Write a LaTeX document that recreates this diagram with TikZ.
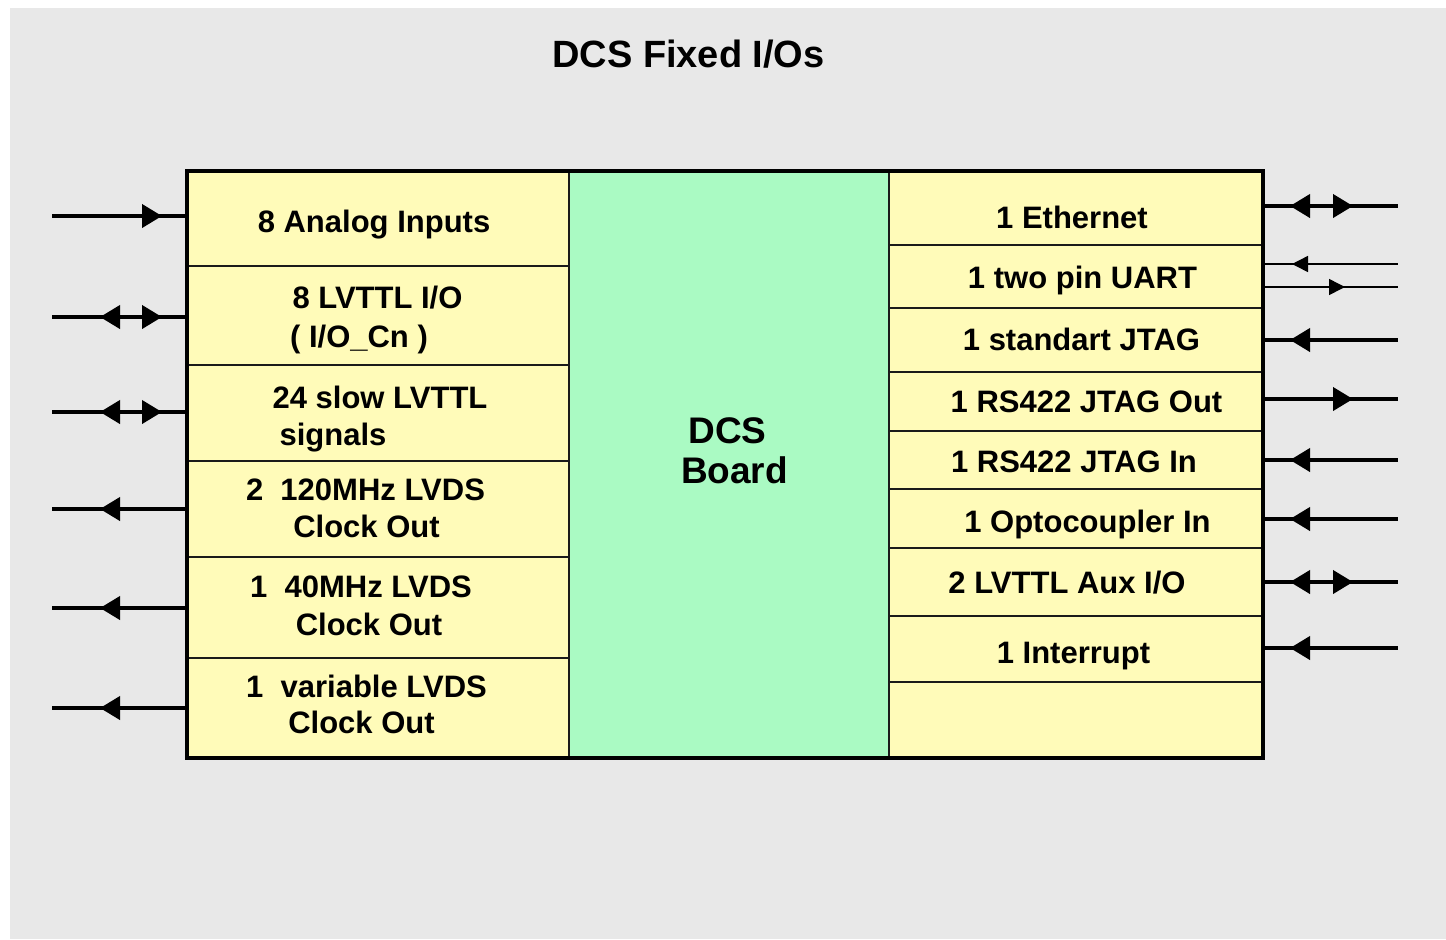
\documentclass[tikz,border=0pt]{standalone}
\usepackage{fontspec}
\setmainfont{Liberation Sans}
\usetikzlibrary{arrows.meta,decorations.markings,fit}
\definecolor{bggrey}{HTML}{E8E8E8}
\definecolor{cellyellow}{HTML}{FFFBB9}
\definecolor{boardgreen}{HTML}{AAFAC3}
\definecolor{edge}{HTML}{1A1A1A}
\tikzset{
  cellbox/.style={draw=edge, line width=1pt, fill=cellyellow, inner sep=0pt},
  boardbox/.style={draw=edge, line width=1pt, fill=boardgreen, inner sep=0pt},
  framebox/.style={draw=black, line width=2pt, inner sep=0pt},
  lbl/.style={anchor=base, inner sep=0pt, font=\bfseries\fontsize{15.5}{18}\selectfont},
  sig/.style={line width=2pt, black},
  thinsig/.style={line width=0.75pt, black},
  fwd/.style={postaction={decorate}, decoration={markings,
      mark=at position #1 with {\arrow{Triangle[length=10pt,width=11.5pt]}}}},
  bwd/.style={postaction={decorate}, decoration={markings,
      mark=at position #1 with {\arrowreversed{Triangle[length=10pt,width=11.5pt]}}}},
  both/.style n args={2}{postaction={decorate}, decoration={markings,
      mark=at position #1 with {\arrowreversed{Triangle[length=10pt,width=11.5pt]}},
      mark=at position #2 with {\arrow{Triangle[length=10pt,width=11.5pt]}}}},
  sfwd/.style={postaction={decorate}, decoration={markings,
      mark=at position #1 with {\arrow{Triangle[length=8pt,width=8pt]}}}},
  sbwd/.style={postaction={decorate}, decoration={markings,
      mark=at position #1 with {\arrowreversed{Triangle[length=8pt,width=8pt]}}}},
}
\begin{document}
\begin{tikzpicture}[x=0.5pt,y=-0.5pt]
\useasboundingbox (0,0) rectangle (1446,939);
\fill[white] (0,0) rectangle (1446,939);
\fill[bggrey] (10,8) rectangle (1446,939);

% title
\node[anchor=base, inner sep=0pt, font=\bfseries\fontsize{19}{22}\selectfont] (title) at (688.5,67) {DCS Fixed I/Os};

% left column cells
\node[cellbox, fit={(187,171) (569,266)}] (L1) {};
\node[cellbox, fit={(187,266) (569,365)}] (L2) {};
\node[cellbox, fit={(187,365) (569,461)}] (L3) {};
\node[cellbox, fit={(187,461) (569,557)}] (L4) {};
\node[cellbox, fit={(187,557) (569,658)}] (L5) {};
\node[cellbox, fit={(187,658) (569,758)}] (L6) {};
% middle
\node[boardbox, fit={(569,171) (889,758)}] (M) {};
% right column cells
\node[cellbox, fit={(889,171) (1263,245)}] (R1) {};
\node[cellbox, fit={(889,245) (1263,308)}] (R2) {};
\node[cellbox, fit={(889,308) (1263,372)}] (R3) {};
\node[cellbox, fit={(889,372) (1263,431)}] (R4) {};
\node[cellbox, fit={(889,431) (1263,489)}] (R5) {};
\node[cellbox, fit={(889,489) (1263,548)}] (R6) {};
\node[cellbox, fit={(889,548) (1263,616)}] (R7) {};
\node[cellbox, fit={(889,616) (1263,682)}] (R8) {};
\node[cellbox, fit={(889,682) (1263,758)}] (R9) {};
% outer frame
\node[framebox, fit={(187,171) (1263,758)}] (frame) {};

% left texts
\node[lbl] (t1) at (374,232) {8 Analog Inputs};
\node[lbl] (t2a) at (377.5,308) {8 LVTTL I/O};
\node[lbl] (t2b) at (359,347) {( I/O\_Cn )};
\node[lbl] (t3a) at (380,408) {24 slow LVTTL};
\node[lbl] (t3b) at (333,445) {signals};
\node[lbl] (t4a) at (365.5,500) {2\ \ 120MHz LVDS};
\node[lbl] (t4b) at (366.5,537) {Clock Out};
\node[lbl] (t5a) at (361,597) {1\ \ 40MHz LVDS};
\node[lbl] (t5b) at (369,635) {Clock Out};
\node[lbl] (t6a) at (366.5,697) {1\ \ variable LVDS};
\node[lbl] (t6b) at (361.5,733) {Clock Out};

% middle text
\node[anchor=base, inner sep=0pt, font=\bfseries\fontsize{18.5}{22}\selectfont] (dcs) at (727.5,443) {DCS};
\node[anchor=base, inner sep=0pt, font=\bfseries\fontsize{18.5}{22}\selectfont] (board) at (734.5,483) {Board};

% right texts
\node[lbl] (r1) at (1072,228) {1 Ethernet};
\node[lbl] (r2) at (1082.5,288) {1 two pin UART};
\node[lbl] (r3) at (1081.5,350) {1 standart JTAG};
\node[lbl] (r4) at (1086.5,412) {1 RS422 JTAG Out};
\node[lbl] (r5) at (1074,472) {1 RS422 JTAG In};
\node[lbl] (r6) at (1087.5,532) {1 Optocoupler In};
\node[lbl] (r7) at (1067,593) {2 LVTTL Aux I/O};
\node[lbl] (r8) at (1073.5,663) {1 Interrupt};

% left connectors
\coordinate (la1) at (52,216);
\coordinate (la2) at (52,317);
\coordinate (la3) at (52,412);
\coordinate (la4) at (52,509);
\coordinate (la5) at (52,608);
\coordinate (la6) at (52,708);
\draw[sig, fwd=55pt] (la1) -- (la1 -| L1.west);
\draw[sig, both={24pt}{55pt}] (la2) -- (la2 -| L2.west);
\draw[sig, both={24pt}{55pt}] (la3) -- (la3 -| L3.west);
\draw[sig, bwd=24pt] (la4) -- (la4 -| L4.west);
\draw[sig, bwd=24pt] (la5) -- (la5 -| L5.west);
\draw[sig, bwd=24pt] (la6) -- (la6 -| L6.west);

% right connectors
\coordinate (ra1) at (1398,206);
\coordinate (ra2a) at (1398,264);
\coordinate (ra2b) at (1398,287);
\coordinate (ra3) at (1398,340);
\coordinate (ra4) at (1398,399);
\coordinate (ra5) at (1398,460);
\coordinate (ra6) at (1398,519);
\coordinate (ra7) at (1398,582);
\coordinate (ra8) at (1398,648);
\draw[sig, both={13pt}{44.5pt}] (ra1 -| R1.east) -- (ra1);
\draw[thinsig, sbwd=14pt] (ra2a -| R2.east) -- (ra2a);
\draw[thinsig, sfwd=40.5pt] (ra2b -| R2.east) -- (ra2b);
\draw[sig, bwd=13pt] (ra3 -| R3.east) -- (ra3);
\draw[sig, fwd=44.5pt] (ra4 -| R4.east) -- (ra4);
\draw[sig, bwd=13pt] (ra5 -| R5.east) -- (ra5);
\draw[sig, bwd=13pt] (ra6 -| R6.east) -- (ra6);
\draw[sig, both={13pt}{44.5pt}] (ra7 -| R7.east) -- (ra7);
\draw[sig, bwd=13pt] (ra8 -| R8.east) -- (ra8);
\end{tikzpicture}
\end{document}
